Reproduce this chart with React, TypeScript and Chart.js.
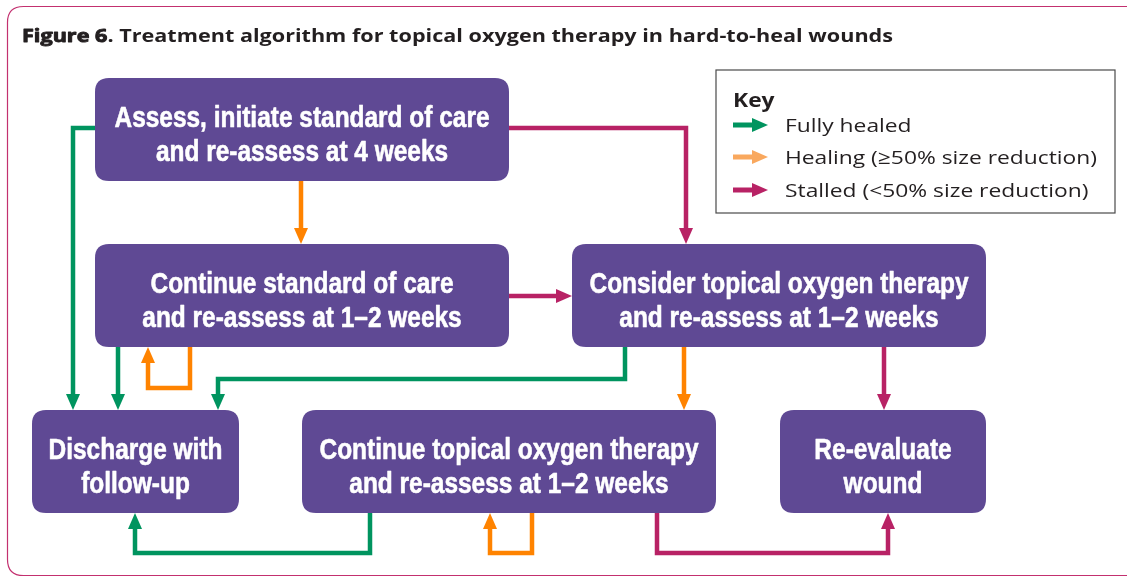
import React, { useEffect, useRef } from "react";
import { Chart, registerables } from "chart.js";

Chart.register(...registerables);

// ---- Data (flowchart, in diagram units) ----
const titleBold = "Figure 6";
const titleRest = ". Treatment algorithm for topical oxygen therapy in hard-to-heal wounds";

const nodeLines: string[][] = [
  ["Assess, initiate standard of care", "and re-assess at 4 weeks"],
  ["Continue standard of care", "and re-assess at 1–2 weeks"],
  ["Consider topical oxygen therapy", "and re-assess at 1–2 weeks"],
  ["Discharge with", "follow-up"],
  ["Continue topical oxygen therapy", "and re-assess at 1–2 weeks"],
  ["Re-evaluate", "wound"],
];
const nodeLeft = [95, 95, 572, 32, 302, 780];
const nodeRight = [509, 509, 986, 239, 716, 986];
const nodeTop = [78, 244, 244, 410, 410, 410];
const nodeBottom = [181, 347, 347, 513, 513, 513];

const keyTitle = "Key";
const keyLabels = ["Fully healed", "Healing (≥50% size reduction)", "Stalled (<50% size reduction)"];
const keyKinds = ["healed", "healing", "stalled"];

const edgeKinds = [
  "healed", "healed", "healed", "healed",
  "healing", "healing", "healing", "healing",
  "stalled", "stalled", "stalled", "stalled",
];
const edgePaths: number[][][] = [
  [[95, 128], [73, 128], [73, 410]],
  [[118, 347], [118, 410]],
  [[625, 347], [625, 379], [218, 379], [218, 410]],
  [[370, 513], [370, 553], [135, 553], [135, 513]],
  [[301, 181], [301, 244]],
  [[190, 347], [190, 388], [148, 388], [148, 347]],
  [[684, 347], [684, 410]],
  [[532, 513], [532, 553], [490, 553], [490, 513]],
  [[509, 128], [686, 128], [686, 244]],
  [[509, 296], [572, 296]],
  [[884, 347], [884, 410]],
  [[657, 513], [657, 553], [888, 553], [888, 513]],
];

// ---- Styles ----
const W = 1127;
const H = 577;
const colors: Record<string, string> = {
  healed: "#00945f",
  healing: "#ff8300",
  stalled: "#b82265",
};
const keyColors: Record<string, string> = {
  healed: "#00945f",
  healing: "#f9a85e",
  stalled: "#b82265",
};
const boxColor = "#5f4994";
const frameColor = "#c3306f";
const ARROW_LEN = 16;
const ARROW_HALF = 7;
const TITLE_WIDTH = 871;
const KEY_STRETCH = 1.2;

function shorten(path: number[][]) {
  const pts = path.map((p) => ({ x: p[0], y: p[1] }));
  const n = pts.length;
  const a = pts[n - 2];
  const b = pts[n - 1];
  const dx = b.x - a.x;
  const dy = b.y - a.y;
  const len = Math.hypot(dx, dy);
  const cut = ARROW_LEN - 2;
  pts[n - 1] = { x: b.x - (dx / len) * cut, y: b.y - (dy / len) * cut };
  return pts;
}

function roundRect(ctx: CanvasRenderingContext2D, x: number, y: number, w: number, h: number, r: number) {
  ctx.beginPath();
  ctx.moveTo(x + r, y);
  ctx.lineTo(x + w - r, y);
  ctx.quadraticCurveTo(x + w, y, x + w, y + r);
  ctx.lineTo(x + w, y + h - r);
  ctx.quadraticCurveTo(x + w, y + h, x + w - r, y + h);
  ctx.lineTo(x + r, y + h);
  ctx.quadraticCurveTo(x, y + h, x, y + h - r);
  ctx.lineTo(x, y + r);
  ctx.quadraticCurveTo(x, y, x + r, y);
  ctx.closePath();
}

function arrowHead(ctx: CanvasRenderingContext2D, tipX: number, tipY: number, fromX: number, fromY: number, len: number, half: number, color: string) {
  const dx = tipX - fromX;
  const dy = tipY - fromY;
  const l = Math.hypot(dx, dy);
  const ux = dx / l;
  const uy = dy / l;
  const bx = tipX - ux * len;
  const by = tipY - uy * len;
  ctx.beginPath();
  ctx.moveTo(tipX, tipY);
  ctx.lineTo(bx - uy * half, by + ux * half);
  ctx.lineTo(bx + uy * half, by - ux * half);
  ctx.closePath();
  ctx.fillStyle = color;
  ctx.fill();
}

function stretchedText(ctx: CanvasRenderingContext2D, t: string, x: number, y: number, sx: number, stroke = 0) {
  ctx.save();
  ctx.translate(x, y);
  ctx.scale(sx, 1);
  ctx.fillText(t, 0, 0);
  if (stroke > 0) {
    ctx.lineWidth = stroke;
    ctx.strokeStyle = ctx.fillStyle as string;
    ctx.lineJoin = "round";
    ctx.strokeText(t, 0, 0);
  }
  ctx.restore();
}

const flowPlugin = {
  id: "flow",
  beforeDatasetsDraw(chart: any) {
    const ctx: CanvasRenderingContext2D = chart.ctx;
    const xs = chart.scales.x;
    const ys = chart.scales.y;
    const px = (v: number) => xs.getPixelForValue(v);
    const py = (v: number) => ys.getPixelForValue(v);
    ctx.save();
    // frame
    ctx.strokeStyle = frameColor;
    ctx.lineWidth = 1.2;
    roundRect(ctx, px(7.5), py(6.5), px(1160) - px(7.5), py(575.5) - py(6.5), 16);
    ctx.stroke();
    // title
    ctx.fillStyle = "#231f20";
    ctx.textBaseline = "alphabetic";
    ctx.textAlign = "left";
    const fTitle = "700 18px 'Open Sans'";
    ctx.font = fTitle;
    const w1 = ctx.measureText(titleBold).width;
    const w2 = ctx.measureText(titleRest).width;
    const sx = TITLE_WIDTH / (w1 + w2);
    stretchedText(ctx, titleBold, px(22), py(42), sx, 0.9);
    stretchedText(ctx, titleRest, px(22) + w1 * sx, py(42), sx);
    // key box
    ctx.strokeStyle = "#4a4a4a";
    ctx.lineWidth = 1.2;
    ctx.strokeRect(px(716), py(70), px(1115) - px(716), py(213) - py(70));
    ctx.fillStyle = "#231f20";
    ctx.font = "700 19px 'Open Sans'";
    stretchedText(ctx, keyTitle, px(733), py(107), KEY_STRETCH);
    const keyY = [125, 157, 190];
    keyLabels.forEach((lab, i) => {
      const c = keyColors[keyKinds[i]];
      ctx.fillStyle = c;
      ctx.fillRect(px(733), py(keyY[i]) - 2.5, px(754) - px(733), 5);
      arrowHead(ctx, px(768), py(keyY[i]), px(733), py(keyY[i]), 16, 7, c);
      ctx.fillStyle = "#231f20";
      ctx.font = "500 19px 'Open Sans'";
      stretchedText(ctx, lab, px(785), py(keyY[i] + 7), KEY_STRETCH);
    });
    ctx.restore();
  },
  afterDatasetsDraw(chart: any) {
    const ctx: CanvasRenderingContext2D = chart.ctx;
    const xs = chart.scales.x;
    const ys = chart.scales.y;
    const px = (v: number) => xs.getPixelForValue(v);
    const py = (v: number) => ys.getPixelForValue(v);
    ctx.save();
    // arrowheads
    edgePaths.forEach((path, i) => {
      const n = path.length;
      arrowHead(ctx, px(path[n - 1][0]), py(path[n - 1][1]), px(path[n - 2][0]), py(path[n - 2][1]), ARROW_LEN, ARROW_HALF, colors[edgeKinds[i]]);
    });
    // boxes
    nodeLines.forEach((lines, i) => {
      const x0 = px(nodeLeft[i]);
      const x1 = px(nodeRight[i]);
      const y0 = py(nodeTop[i]);
      const y1 = py(nodeBottom[i]);
      ctx.fillStyle = boxColor;
      roundRect(ctx, x0, y0, x1 - x0, y1 - y0, 14);
      ctx.fill();
      const cx = (x0 + x1) / 2;
      const cy = (y0 + y1) / 2;
      ctx.fillStyle = "#ffffff";
      ctx.font = "bold 30px 'Liberation Sans', Arial, sans-serif";
      ctx.textAlign = "center";
      ctx.textBaseline = "alphabetic";
      lines.forEach((t, j) => {
        stretchedText(ctx, t, cx, cy - 3 + j * 34.5, 0.815, 0.6);
      });
    });
    ctx.restore();
  },
};

export default function App() {
  const ref = useRef<HTMLCanvasElement | null>(null);
  useEffect(() => {
    document.body.style.margin = "0";
    const canvas = ref.current!;
    const chart = new Chart(canvas, {
      type: "scatter",
      data: {
        datasets: edgePaths.map((p, i) => ({
          label: edgeKinds[i],
          data: shorten(p),
          showLine: true,
          borderColor: colors[edgeKinds[i]],
          backgroundColor: colors[edgeKinds[i]],
          borderWidth: 4.5,
          pointRadius: 0,
          borderJoinStyle: "miter" as const,
          borderCapStyle: "butt" as const,
          tension: 0,
        })),
      },
      options: {
        animation: false,
        responsive: false,
        devicePixelRatio: 1,
        layout: { padding: 0 },
        plugins: { legend: { display: false }, tooltip: { enabled: false }, title: { display: false } },
        scales: {
          x: { type: "linear", min: 0, max: W, display: false },
          y: { type: "linear", min: 0, max: H, reverse: true, display: false },
        },
        events: [],
      },
      plugins: [flowPlugin],
    } as any);
    return () => chart.destroy();
  }, []);
  return (
    <div style={{ position: "absolute", left: 0, top: 0, width: W, height: H, background: "#fff" }}>
      <canvas ref={ref} width={W} height={H} style={{ display: "block" }} />
    </div>
  );
}
